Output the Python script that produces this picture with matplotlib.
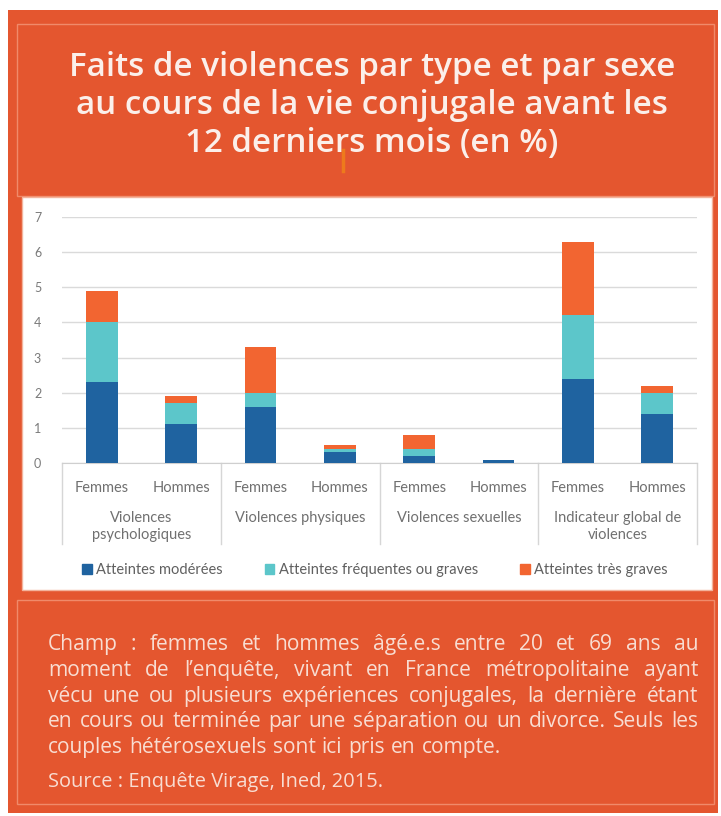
import matplotlib
matplotlib.use("Agg")
import matplotlib.pyplot as plt
import numpy as np
from matplotlib.patches import Rectangle
from matplotlib.lines import Line2D

plt.rcParams['font.family'] = ['Lato', 'DejaVu Sans']

# data (%)
categories = ["Femmes", "Hommes"] * 4
groups = ["Violences\npsychologiques", "Violences physiques",
          "Violences sexuelles", "Indicateur global de\nviolences"]
moderees = [2.3, 1.1, 1.6, 0.3, 0.2, 0.08, 2.4, 1.4]
frequentes = [1.7, 0.6, 0.4, 0.1, 0.2, 0.0, 1.8, 0.6]
tres_graves = [0.9, 0.2, 1.3, 0.1, 0.4, 0.0, 2.1, 0.2]
series_names = ["Atteintes modérées", "Atteintes fréquentes ou graves", "Atteintes très graves"]
series_colors = ["#1f63a0", "#5cc6ca", "#f26531"]

title_lines = ["Faits de violences par type et par sexe",
               "au cours de la vie conjugale avant les",
               "12 derniers mois (en %)"]
note_lines = [
    "Champ : femmes et hommes âgé.e.s entre 20 et 69 ans au",
    "moment de l’enquête, vivant en France métropolitaine ayant",
    "vécu une ou plusieurs expériences conjugales, la dernière étant",
    "en cours ou terminée par une séparation ou un divorce. Seuls les",
    "couples hétérosexuels sont ici pris en compte.",
]
source = "Source : Enquête Virage, Ined, 2015."

W, H = 721, 816
ORANGE = "#e4562f"
TXT = "#f8ddd2"

fig = plt.figure(figsize=(W / 100, H / 100), dpi=100)
fig.patch.set_facecolor("white")


def fx(x):
    return x / W


def fy(y):
    return 1 - y / H


def rect(x0, y0, x1, y1, **kw):
    fig.patches.append(Rectangle((fx(x0), fy(y1)), fx(x1) - fx(x0), fy(y0) - fy(y1),
                                 transform=fig.transFigure, zorder=-5, **kw))


# background panels
rect(8, 10, 718, 813, facecolor=ORANGE, edgecolor="none")
rect(17, 24, 714, 196, facecolor="none", edgecolor="#f08a6a", lw=1)
rect(22, 197, 712, 590, facecolor="white", edgecolor="#f3b39c", lw=1)
rect(17, 600, 714, 804, facecolor="none", edgecolor="#f08a6a", lw=1)

fig.lines.append(Line2D([fx(343), fx(343)], [fy(150), fy(171)], transform=fig.transFigure,
                        color="#ee7a1c", lw=2.5))

# chart
ax = fig.add_axes([fx(62), fy(463), fx(697) - fx(62), fy(217) - fy(463)])
x = np.arange(len(categories))
bottom = np.zeros(len(categories))
for vals, col in zip([moderees, frequentes, tres_graves], series_colors):
    ax.bar(x, vals, 0.40, bottom=bottom, color=col, zorder=3)
    bottom += np.array(vals)

ax.set_xlim(-0.5, len(categories) - 0.5)
ax.set_ylim(0, 7)
ax.set_yticks(range(0, 8))
ax.tick_params(axis="y", length=0, pad=15, labelsize=9, labelcolor="#7a7a7a")
ax.yaxis.grid(True, color="#dadada", lw=1, zorder=0)
ax.set_xticks(x)
ax.set_xticklabels(categories)
ax.tick_params(axis="x", length=0, pad=13, labelsize=10.5, labelcolor="#707070")
for s in ["left", "right", "top"]:
    ax.spines[s].set_visible(False)
ax.spines["bottom"].set_color("#cfcfcf")

# multi-level category separators and group labels
for b in range(0, len(categories) + 1, 2):
    ax.plot([b - 0.5, b - 0.5], [0, -2.3], color="#d6d6d6", lw=1, clip_on=False)
for i, g in enumerate(groups):
    ax.text(2 * i + 0.5, -1.38, g, ha="center", va="top", fontsize=10.5, color="#707070",
            linespacing=1.25)

# legend
handles = [Rectangle((0, 0), 1, 1, color=c) for c in series_colors]
fig.legend(handles, series_names, loc="center", bbox_to_anchor=(fx(375), fy(570)), ncol=3,
           frameon=False, fontsize=10.5, handlelength=0.65, handleheight=0.65, handletextpad=0.3,
           columnspacing=2.9, labelcolor="#606060")

fig.canvas.draw()
renderer = fig.canvas.get_renderer()


def width(t):
    return t.get_window_extent(renderer).width


# title: fit first line to the reference width
tsize = 20
probe = fig.text(0, 0, title_lines[0], fontsize=tsize, family="Open Sans", weight="semibold")
tsize = tsize * 605 / width(probe)
probe.remove()
for i, line in enumerate(title_lines):
    fig.text(fx(372), fy(76 + 38 * i), line, ha="center", va="baseline", color="#fbefea",
             fontsize=tsize, family="Open Sans", weight="semibold")

# justified note, size fitted on the last (unjustified) line
nsize = 14
probe = fig.text(0, 0, note_lines[-1], fontsize=nsize, family="Open Sans")
nsize = nsize * 453 / width(probe)
probe.remove()
left, right = 48, 698
y0, step = 650, 25.8
for li, line in enumerate(note_lines):
    words = line.split(" ")
    texts = [fig.text(0, fy(y0 + li * step), w, color=TXT, fontsize=nsize,
                      family="Open Sans", va="baseline") for w in words]
    widths = [width(t) for t in texts]
    if li < len(note_lines) - 1:
        gap = (right - left - sum(widths)) / (len(words) - 1)
    else:
        gap = (453 - sum(widths)) / (len(words) - 1)
    cur = left
    for t, w in zip(texts, widths):
        t.set_x(fx(cur))
        cur += w + gap
fig.text(fx(left), fy(787), source, color=TXT, fontsize=nsize * 0.95, family="Open Sans",
         va="baseline")

fig.savefig("out.png", dpi=100)
